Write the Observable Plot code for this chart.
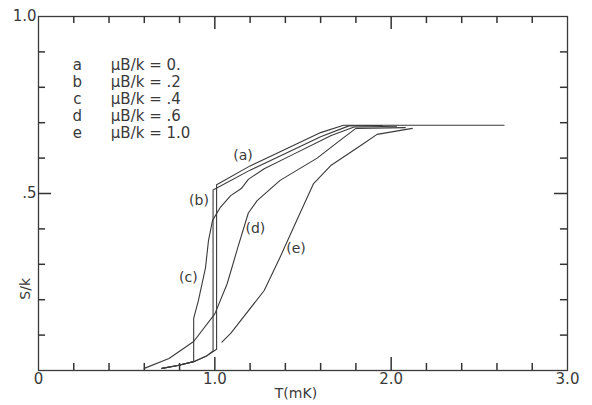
<!DOCTYPE html>
<html><head><meta charset="utf-8">
<script src="https://cdn.jsdelivr.net/npm/d3@7"></script>
<script src="https://cdn.jsdelivr.net/npm/@observablehq/plot@0.6"></script>
<style>body{margin:0;background:#fff}</style>
</head><body><div id="chart"></div>
<script>
// Curve data: T in mK, S/k
const curveA_T = [0.70, 0.79, 0.88, 0.95, 1.01, 1.01, 1.20, 1.43, 1.60, 1.73, 2.64];
const curveA_S = [0.006, 0.014, 0.025, 0.040, 0.060, 0.525, 0.578, 0.632, 0.672, 0.693, 0.693];
const curveB_T = [0.70, 0.79, 0.88, 0.95, 0.99, 0.99, 1.20, 1.43, 1.60, 1.76, 1.95];
const curveB_S = [0.006, 0.014, 0.025, 0.040, 0.055, 0.510, 0.566, 0.620, 0.660, 0.691, 0.692];
const curveC_T = [0.70, 0.79, 0.88, 0.88, 0.907, 0.947, 0.964, 0.987, 1.03, 1.09, 1.15, 1.19, 1.28, 1.43, 1.66, 1.79, 2.03];
const curveC_S = [0.006, 0.014, 0.025, 0.147, 0.198, 0.290, 0.367, 0.424, 0.460, 0.494, 0.514, 0.540, 0.570, 0.607, 0.664, 0.688, 0.690];
const curveD_T = [0.60, 0.74, 0.88, 1.00, 1.07, 1.13, 1.19, 1.24, 1.37, 1.58, 1.71, 1.80, 2.08];
const curveD_S = [0.006, 0.034, 0.082, 0.160, 0.245, 0.347, 0.445, 0.480, 0.537, 0.600, 0.650, 0.684, 0.686];
const curveE_T = [1.04, 1.09, 1.28, 1.37, 1.47, 1.56, 1.66, 1.84, 1.92, 2.12];
const curveE_S = [0.080, 0.105, 0.226, 0.320, 0.430, 0.528, 0.580, 0.640, 0.667, 0.684];

const curveNames = ["a", "b", "c", "d", "e"];
const curveLabels = ["(a)", "(b)", "(c)", "(d)", "(e)"];
const curveLabelT = [1.16, 0.91, 0.85, 1.23, 1.46];
const curveLabelS = [0.607, 0.48, 0.263, 0.40, 0.344];

const legendKeys = ["a", "b", "c", "d", "e"];
const legendTexts = ["\u03BCB/k = 0.", "\u03BCB/k = .2", "\u03BCB/k = .4", "\u03BCB/k = .6", "\u03BCB/k = 1.0"];

const xTickValues = [0, 1, 2, 3];
const xTickLabels = ["0", "1.0", "2.0", "3.0"];
const xMajorTicks = [1, 2];
const xMinorTicks = [0.2, 0.4, 0.6, 0.8, 1.2, 1.4, 1.6, 1.8, 2.2, 2.4, 2.6, 2.8];
const yTickValues = [0.5, 1.0];
const yTickLabels = [".5", "1.0"];
const yMajorTicks = [0.5];
const yMinorTicks = [0.1, 0.2, 0.3, 0.4, 0.6, 0.7, 0.8, 0.9];

const xLabel = "T(mK)";
const yLabel = "S/k";

// build table
const allT = [curveA_T, curveB_T, curveC_T, curveD_T, curveE_T];
const allS = [curveA_S, curveB_S, curveC_S, curveD_S, curveE_S];
const rows = [];
curveNames.forEach((n, k) => allT[k].forEach((t, i) => rows.push({curve: n, T: t, S: allS[k][i]})));

const W = 592, H = 405, mL = 38, mR = 25, mT = 16, mB = 35;
const ink = "#3a3a3a";
const tickInk = "#333";
const tw = 1.5;
const font = "DejaVu Sans";

const chart = Plot.plot({
  width: W, height: H,
  marginLeft: mL, marginRight: mR, marginTop: mT, marginBottom: mB,
  x: {domain: [0, 3], axis: null},
  y: {domain: [0, 1], axis: null},
  style: {fontFamily: font, fontSize: "14px", background: "#fff"},
  marks: [
    Plot.frame({stroke: ink, strokeWidth: 1.3}),
    // bottom ticks (lengths ~7 px / 13 px expressed in data units)
    Plot.ruleX(xMinorTicks, {x: d => d, y1: 0, y2: 0.02, stroke: tickInk, strokeWidth: tw}),
    Plot.ruleX(xMajorTicks, {x: d => d, y1: 0, y2: 0.037, stroke: tickInk, strokeWidth: tw}),
    // top ticks
    Plot.ruleX(xMinorTicks, {x: d => d, y1: 1, y2: 0.98, stroke: tickInk, strokeWidth: tw}),
    Plot.ruleX(xMajorTicks, {x: d => d, y1: 1, y2: 0.963, stroke: tickInk, strokeWidth: tw}),
    // left ticks
    Plot.ruleY(yMinorTicks, {y: d => d, x1: 0, x2: 0.04, stroke: tickInk, strokeWidth: tw}),
    Plot.ruleY(yMajorTicks, {y: d => d, x1: 0, x2: 0.074, stroke: tickInk, strokeWidth: tw}),
    // right ticks
    Plot.ruleY(yMinorTicks, {y: d => d, x1: 3, x2: 2.96, stroke: tickInk, strokeWidth: tw}),
    Plot.ruleY(yMajorTicks, {y: d => d, x1: 3, x2: 2.926, stroke: tickInk, strokeWidth: tw}),
    // tick labels
    Plot.text(xTickValues, {x: d => d, text: (d, i) => xTickLabels[i], frameAnchor: "bottom", dy: 13, fontSize: 15, fill: ink}),
    Plot.text(yTickValues, {y: d => d, text: (d, i) => yTickLabels[i], frameAnchor: "left", textAnchor: "end", dx: -2, fontSize: 15, fill: ink}),
    // axis labels
    Plot.text([xLabel], {x: 1.46, text: d => d, frameAnchor: "bottom", dy: 27, fontSize: 14, fill: ink}),
    Plot.text([yLabel], {y: 0.2, text: d => d, frameAnchor: "left", dx: -13, rotate: -90, fontSize: 14, fill: ink}),
    // curves
    Plot.line(rows, {x: "T", y: "S", z: "curve", stroke: ink, strokeWidth: 1.1, curve: "linear"}),
    // curve labels
    Plot.text(curveLabels, {x: (d, i) => curveLabelT[i], y: (d, i) => curveLabelS[i], text: d => d, fontSize: 14, fill: ink}),
    // legend
    Plot.text(legendKeys, {x: 0.22, y: (d, i) => 0.862 - i * 0.048, text: d => d, fontSize: 15, fill: ink}),
    Plot.text(legendTexts, {x: 0.41, y: (d, i) => 0.862 - i * 0.048, text: d => d, textAnchor: "start", fontSize: 15, fill: ink})
  ]
});
document.getElementById("chart").appendChild(chart);
</script>
</body></html>
